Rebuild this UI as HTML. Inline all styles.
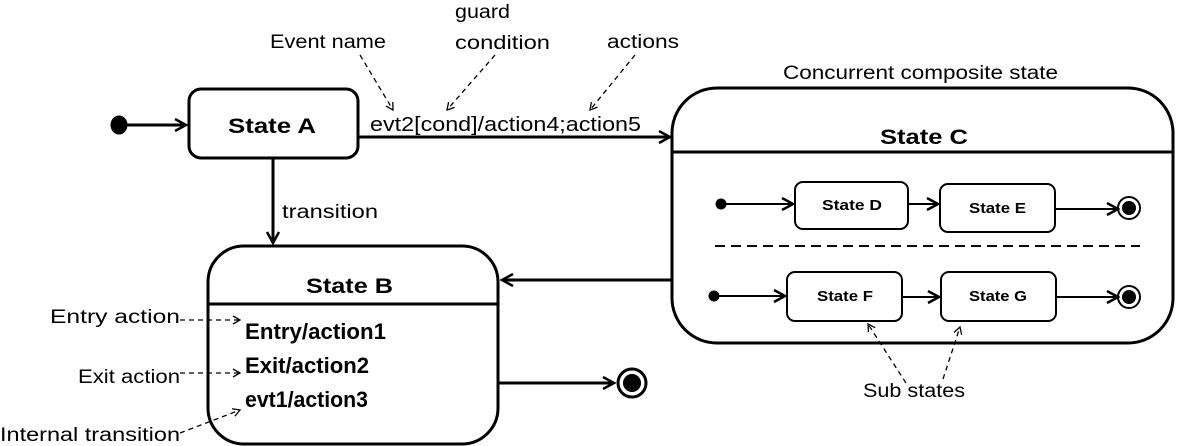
<!DOCTYPE html>
<html><head><style>body{margin:0;background:#fff}svg{display:block}text{font-family:"Liberation Sans",sans-serif;fill:#000}</style></head><body>
<svg width="1182" height="446" viewBox="0 0 1182 446" xmlns="http://www.w3.org/2000/svg">
<defs>
<marker id="o" markerWidth="14" markerHeight="14" refX="12" refY="7" orient="auto" markerUnits="userSpaceOnUse"><path d="M1,1 L12,7 L1,13" fill="none" stroke="#000" stroke-width="2.5"/></marker>
<marker id="s" markerWidth="10" markerHeight="10" refX="8" refY="5" orient="auto" markerUnits="userSpaceOnUse"><path d="M1,1 L8,5 L1,9" fill="none" stroke="#000" stroke-width="1.3"/></marker>
</defs>
<g fill="none" stroke="#000">
<ellipse cx="119" cy="125" rx="8" ry="9" fill="#000"/>
<line x1="127" y1="125" x2="186" y2="125" stroke-width="3" marker-end="url(#o)"/>
<rect x="189" y="89" width="169" height="69" rx="12" stroke-width="3"/>
<line x1="358" y1="137" x2="670" y2="137" stroke-width="3" marker-end="url(#o)"/>
<line x1="273" y1="158" x2="273" y2="243" stroke-width="3" marker-end="url(#o)"/>
<g stroke-width="1.3" stroke-dasharray="5,4">
<line x1="360" y1="55" x2="393" y2="110" marker-end="url(#s)"/>
<line x1="495" y1="55" x2="447" y2="110" marker-end="url(#s)"/>
<line x1="635" y1="55" x2="590" y2="110" marker-end="url(#s)"/>
<line x1="180" y1="320" x2="240" y2="320" marker-end="url(#s)"/>
<line x1="180" y1="373" x2="240" y2="373" marker-end="url(#s)"/>
<line x1="180" y1="433" x2="240" y2="410" marker-end="url(#s)"/>
<line x1="906" y1="383" x2="868" y2="324" marker-end="url(#s)"/>
<line x1="943" y1="379" x2="960" y2="327" marker-end="url(#s)"/>
</g>
<rect x="208" y="246" width="290" height="198" rx="36" stroke-width="3"/>
<line x1="208" y1="304" x2="498" y2="304" stroke-width="3"/>
<line x1="498" y1="383" x2="614" y2="383" stroke-width="3" marker-end="url(#o)"/>
<circle cx="632" cy="383" r="14" stroke-width="3"/>
<circle cx="632" cy="383" r="9" fill="#000" stroke="none"/>
<rect x="672" y="88" width="501" height="255" rx="45" stroke-width="3"/>
<line x1="672" y1="152" x2="1173" y2="152" stroke-width="3"/>
<line x1="672" y1="280" x2="502" y2="280" stroke-width="3" marker-end="url(#o)"/>
<line x1="715" y1="246" x2="1140" y2="246" stroke-width="2" stroke-dasharray="10,6"/>
<circle cx="721" cy="204" r="5" fill="#000"/>
<line x1="721" y1="204" x2="793" y2="204" stroke-width="2" marker-end="url(#o)"/>
<rect x="795" y="182" width="113" height="47" rx="8" stroke-width="2"/>
<line x1="908" y1="204" x2="938" y2="204" stroke-width="2" marker-end="url(#o)"/>
<rect x="940" y="184" width="115" height="48" rx="8" stroke-width="2"/>
<line x1="1055" y1="209" x2="1118" y2="209" stroke-width="2" marker-end="url(#o)"/>
<circle cx="1129" cy="208" r="11" stroke-width="2"/><circle cx="1129" cy="208" r="7" fill="#000" stroke="none"/>
<circle cx="714" cy="296" r="5" fill="#000"/>
<line x1="714" y1="296" x2="785" y2="296" stroke-width="2" marker-end="url(#o)"/>
<rect x="787" y="272" width="115" height="49" rx="8" stroke-width="2"/>
<line x1="902" y1="297" x2="939" y2="297" stroke-width="2" marker-end="url(#o)"/>
<rect x="941" y="272" width="115" height="49" rx="8" stroke-width="2"/>
<line x1="1056" y1="297" x2="1118" y2="297" stroke-width="2" marker-end="url(#o)"/>
<circle cx="1129" cy="297" r="11" stroke-width="2"/><circle cx="1129" cy="297" r="7" fill="#000" stroke="none"/>
</g>
<g font-size="19">
<text x="270" y="48" textLength="116" lengthAdjust="spacingAndGlyphs">Event name</text>
<text x="455" y="18" textLength="55" lengthAdjust="spacingAndGlyphs">guard</text>
<text x="455" y="49" textLength="95" lengthAdjust="spacingAndGlyphs">condition</text>
<text x="607" y="48" textLength="72" lengthAdjust="spacingAndGlyphs">actions</text>
<text x="783" y="79" textLength="275" lengthAdjust="spacingAndGlyphs">Concurrent composite state</text>
<text x="282" y="218" textLength="96" lengthAdjust="spacingAndGlyphs">transition</text>
<text x="50" y="323" textLength="130" lengthAdjust="spacingAndGlyphs">Entry action</text>
<text x="78" y="383" textLength="102" lengthAdjust="spacingAndGlyphs">Exit action</text>
<text x="0" y="441" textLength="180" lengthAdjust="spacingAndGlyphs">Internal transition</text>
<text x="863" y="397" textLength="102" lengthAdjust="spacingAndGlyphs">Sub states</text>
<text x="370" y="131" font-size="20" textLength="271" lengthAdjust="spacingAndGlyphs">evt2[cond]/action4;action5</text>
</g>
<g font-weight="bold">
<text x="228" y="133" font-size="21" textLength="88" lengthAdjust="spacingAndGlyphs">State A</text>
<text x="306" y="293" font-size="21" textLength="87" lengthAdjust="spacingAndGlyphs">State B</text>
<text x="880" y="144" font-size="21" textLength="88" lengthAdjust="spacingAndGlyphs">State C</text>
<text x="245" y="339" font-size="22" textLength="141" lengthAdjust="spacingAndGlyphs">Entry/action1</text>
<text x="245" y="373" font-size="22" textLength="124" lengthAdjust="spacingAndGlyphs">Exit/action2</text>
<text x="245" y="407" font-size="22" textLength="123" lengthAdjust="spacingAndGlyphs">evt1/action3</text>
<g font-size="15">
<text x="822" y="210" textLength="60" lengthAdjust="spacingAndGlyphs">State D</text>
<text x="969" y="213" textLength="57" lengthAdjust="spacingAndGlyphs">State E</text>
<text x="817" y="301" textLength="56" lengthAdjust="spacingAndGlyphs">State F</text>
<text x="969" y="301" textLength="58" lengthAdjust="spacingAndGlyphs">State G</text>
</g>
</g>
</svg>
</body></html>
